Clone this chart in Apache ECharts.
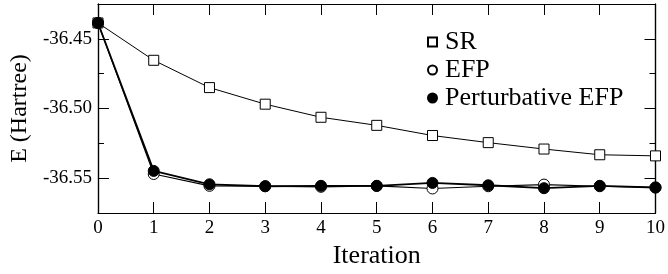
<!DOCTYPE html>
<html>
<head>
<meta charset="utf-8">
<script src="https://cdn.jsdelivr.net/npm/echarts@6/dist/echarts.min.js"></script>
<style>
  html, body { margin: 0; padding: 0; background: #fff; }
  #chart { width: 668px; height: 274px; }
</style>
</head>
<body>
<div id="chart"></div>
<script>
// values
const iterations = [0, 1, 2, 3, 4, 5, 6, 7, 8, 9, 10]
const srValues = [-36.4386, -36.4654, -36.4850, -36.4969, -36.5063, -36.5121, -36.5194, -36.5245, -36.5291, -36.5332, -36.5340]
const efpValues = [-36.4386, -36.5470, -36.5555, -36.5558, -36.5562, -36.5556, -36.5574, -36.5558, -36.5546, -36.5558, -36.5567]
const pertValues = [-36.4386, -36.5448, -36.5544, -36.5558, -36.5555, -36.5555, -36.5534, -36.5551, -36.5572, -36.5555, -36.5567]
const yMajorTicks = [-36.55, -36.50, -36.45]
const yMinorTicks = [-36.525, -36.475]
const seriesNames = ['SR', 'EFP', 'Perturbative EFP']

const font = '"Liberation Serif", "DejaVu Serif", serif'
const yMin = -36.575
const yMax = -36.425

function pairs(vals) {
  return iterations.map((x, i) => [x, vals[i]])
}

// one y axis per side and tick length (major / minor)
function yAxisDef(position, ticks, len, showLabel) {
  return {
    type: 'value',
    position: position,
    min: yMin,
    max: yMax,
    axisLine: { show: true, onZero: false, lineStyle: { color: '#000', width: 1.2 } },
    axisTick: { show: true, inside: true, length: len, customValues: ticks, lineStyle: { color: '#000', width: 1 } },
    axisLabel: {
      show: showLabel,
      customValues: ticks,
      color: '#000',
      fontFamily: font,
      fontSize: 19,
      margin: 6,
      formatter: v => v.toFixed(2)
    },
    splitLine: { show: false }
  }
}

const chart = echarts.init(document.getElementById('chart'))
chart.setOption({
  animation: false,
  backgroundColor: '#fff',
  textStyle: { fontFamily: font, color: '#000' },
  grid: { left: 97.5, right: 12, top: 4, bottom: 54 },
  legend: {
    orient: 'vertical',
    left: 427,
    top: 29,
    padding: 0,
    itemGap: 2,
    itemWidth: 9,
    itemHeight: 9,
    selectedMode: false,
    textStyle: { color: '#000', fontFamily: font, fontSize: 26, padding: [0, 0, 0, 3] },
    data: [
      { name: seriesNames[0], icon: 'rect' },
      { name: seriesNames[1], icon: 'circle' },
      { name: seriesNames[2], icon: 'circle' }
    ]
  },
  xAxis: [
    {
      type: 'value',
      min: 0,
      max: 10,
      interval: 1,
      name: 'Iteration',
      nameLocation: 'middle',
      nameGap: 30,
      nameTextStyle: { color: '#000', fontFamily: font, fontSize: 26 },
      axisLine: { onZero: false, lineStyle: { color: '#000', width: 1.2 } },
      axisTick: { inside: true, length: 11, lineStyle: { color: '#000' } },
      axisLabel: { color: '#000', fontFamily: font, fontSize: 19, margin: 6 },
      splitLine: { show: false }
    },
    {
      type: 'value',
      position: 'top',
      min: 0,
      max: 10,
      interval: 1,
      axisLine: { onZero: false, lineStyle: { color: '#000', width: 1.2 } },
      axisTick: { inside: true, length: 11, lineStyle: { color: '#000' } },
      axisLabel: { show: false },
      splitLine: { show: false }
    }
  ],
  yAxis: [
    Object.assign(yAxisDef('left', yMajorTicks, 11, true), {
      name: 'E (Hartree)',
      nameLocation: 'middle',
      nameGap: 64,
      nameTextStyle: { color: '#000', fontFamily: font, fontSize: 24 }
    }),
    yAxisDef('left', yMinorTicks, 6, false),
    yAxisDef('right', yMajorTicks, 11, false),
    yAxisDef('right', yMinorTicks, 6, false)
  ],
  series: [
    {
      name: seriesNames[0],
      type: 'line',
      data: pairs(srValues),
      symbol: 'rect',
      symbolSize: 10,
      lineStyle: { color: '#000', width: 1 },
      itemStyle: { color: '#fff', borderColor: '#000', borderWidth: 1 }
    },
    {
      name: seriesNames[1],
      type: 'line',
      data: pairs(efpValues),
      symbol: 'circle',
      symbolSize: 11,
      lineStyle: { color: '#000', width: 1.2 },
      itemStyle: { color: '#fff', borderColor: '#000', borderWidth: 1 }
    },
    {
      name: seriesNames[2],
      type: 'line',
      data: pairs(pertValues),
      symbol: 'circle',
      symbolSize: 11,
      lineStyle: { color: '#000', width: 1.8 },
      itemStyle: { color: '#000', borderColor: '#000', borderWidth: 1 }
    }
  ]
})
</script>
</body>
</html>
